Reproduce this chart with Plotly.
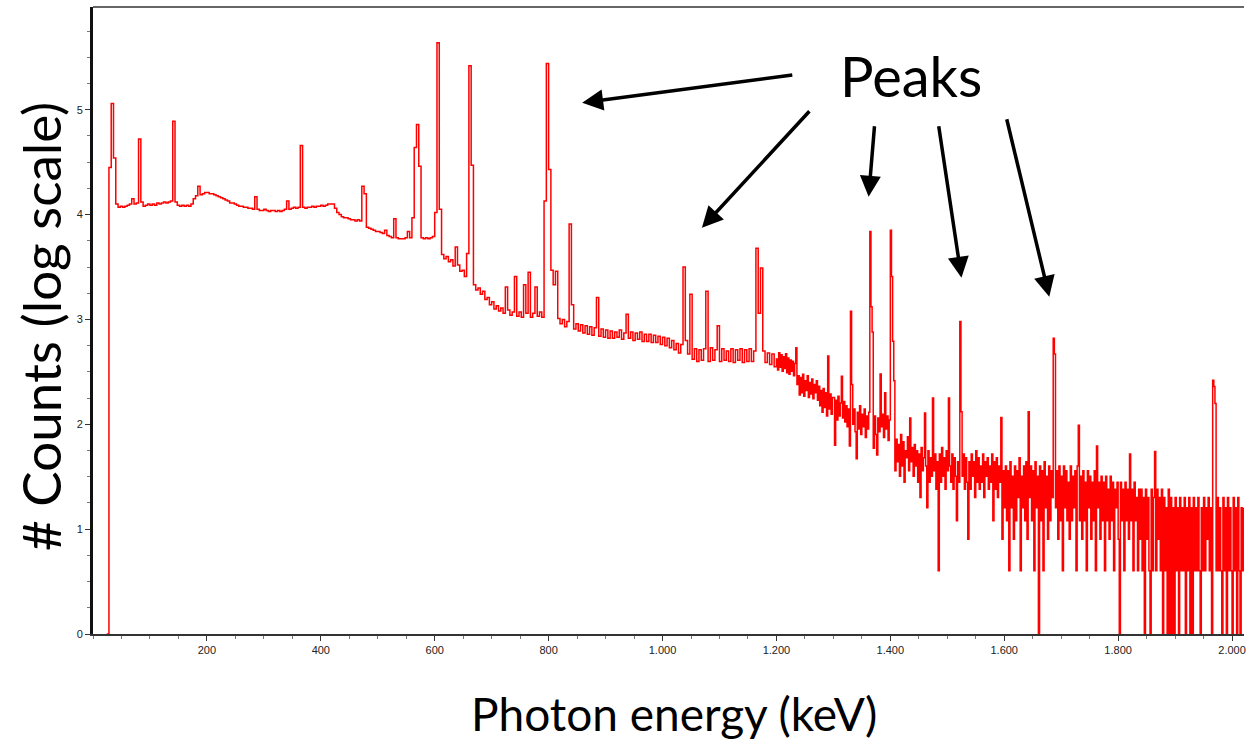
import math
import plotly.graph_objects as go

# ---- Spectrum data ----
# Region A: channel energies start at 24 keV, 4 keV per channel; values are log10(counts)
E_START_A = 24
E_STEP_A = 4
log_counts_a = [
    0, 4.45, 5.06, 4.54, 4.10, 4.07, 4.08, 4.07, 4.08, 4.09,
    4.10, 4.15, 4.10, 4.11, 4.72, 4.12, 4.08, 4.09, 4.10, 4.09,
    4.10, 4.09, 4.11, 4.10, 4.11, 4.12, 4.11, 4.12, 4.13, 4.89,
    4.12, 4.09, 4.08, 4.09, 4.08, 4.09, 4.08, 4.10, 4.15, 4.18,
    4.27, 4.19, 4.20, 4.21, 4.21, 4.20, 4.20, 4.19, 4.18, 4.17,
    4.16, 4.15, 4.14, 4.13, 4.11, 4.11, 4.10, 4.09, 4.08, 4.08,
    4.07, 4.07, 4.06, 4.06, 4.05, 4.17, 4.05, 4.04, 4.04, 4.05,
    4.04, 4.03, 4.04, 4.04, 4.03, 4.04, 4.03, 4.04, 4.05, 4.13,
    4.05, 4.06, 4.07, 4.06, 4.07, 4.66, 4.07, 4.06, 4.07, 4.07,
    4.08, 4.07, 4.08, 4.08, 4.09, 4.08, 4.09, 4.10, 4.10, 4.10,
    4.06, 4.02, 4.00, 3.98, 3.97, 3.97, 3.96, 3.95, 3.95, 3.94,
    3.95, 3.94, 4.27, 4.20, 3.88, 3.87, 3.86, 3.85, 3.84, 3.84,
    3.83, 3.82, 3.85, 3.80, 3.79, 3.78, 3.96, 3.78, 3.77, 3.77,
    3.77, 3.78, 3.84, 3.78, 3.97, 4.64, 4.86, 4.46, 3.78, 3.77,
    3.78, 3.77, 3.78, 3.79, 4.02, 5.64, 4.05, 3.62, 3.58, 3.60,
    3.55, 3.57, 3.51, 3.69, 3.52, 3.46, 3.47, 3.41, 3.63, 5.42,
    4.47, 3.33, 3.28, 3.30, 3.24, 3.27, 3.19, 3.21, 3.14, 3.17,
    3.10, 3.13, 3.08, 3.11, 3.06, 3.31, 3.09, 3.04, 3.07, 3.41,
    3.03, 3.07, 3.02, 3.33, 3.06, 3.45, 3.02, 3.06, 3.31, 3.03,
    3.07, 3.02, 4.13, 5.44, 4.43, 3.47, 3.33, 3.46, 3.01, 2.96,
    3.00, 2.93, 2.98, 3.91, 3.14, 2.91, 2.96, 2.89, 2.95, 2.87,
    2.94, 2.86, 2.93, 2.85, 2.92, 3.21, 2.84, 2.91, 2.83, 2.90,
    2.82, 2.89, 2.82, 2.88, 2.83, 2.90, 2.81, 2.87, 3.05, 2.82,
    2.88, 2.80, 2.87, 2.81, 2.88, 2.79, 2.86, 2.79, 2.86, 2.78,
    2.85, 2.78, 2.84, 2.76, 2.83, 2.75, 2.82, 2.73, 2.80, 2.71,
    2.77, 2.68, 2.76, 3.50, 2.80, 2.67, 3.24, 2.62, 2.72, 2.60,
    2.71, 2.61, 2.72, 3.27, 2.60, 2.73, 2.61, 2.71, 2.94, 2.60,
    2.72, 2.61, 2.70, 2.60, 2.72, 2.59, 2.71, 2.61, 2.72, 2.59,
    2.71, 2.60, 2.72, 2.60, 2.70, 3.68, 3.06, 3.49, 2.70, 2.59,
    2.68, 2.57, 2.67, 2.55,
]

# Region B: channel energies start at 1200 keV, 2 keV per channel; raw counts
E_START_B = 1200
E_STEP_B = 2
counts_b = [
    420, 330, 480, 350, 460, 320, 440, 340, 470, 310,
    430, 300, 410, 320, 400, 290, 380, 537, 240, 290,
    190, 280, 200, 300, 185, 260, 210, 290, 180, 250,
    195, 270, 175, 240, 200, 260, 170, 230, 150, 210,
    130, 220, 145, 200, 120, 447, 140, 195, 125, 180,
    180, 63, 170, 110, 185, 120, 160, 288, 115, 165,
    105, 150, 95, 140, 62, 1200, 240, 100, 140, 85,
    47, 130, 90, 150, 80, 125, 95, 140, 75, 120,
    90, 130, 6900, 1320, 760, 59, 120, 80, 51, 115,
    85, 302, 95, 125, 75, 200, 90, 120, 70, 110,
    7080, 2570, 620, 260, 36, 72, 44, 64, 32, 80,
    40, 68, 28, 56, 48, 76, 36, 115, 44, 60,
    32, 64, 40, 56, 28, 52, 20, 60, 36, 48,
    128, 40, 16, 56, 28, 48, 32, 178, 36, 52,
    24, 44, 4, 52, 28, 60, 32, 48, 24, 56,
    36, 178, 40, 28, 52, 24, 48, 32, 12, 44,
    28, 955, 132, 32, 52, 24, 48, 28, 8, 44,
    24, 52, 32, 44, 20, 56, 28, 48, 24, 40,
    28, 52, 20, 44, 32, 48, 24, 40, 28, 52,
    12, 44, 24, 48, 20, 40, 28, 116, 8, 36,
    16, 40, 12, 36, 4, 44, 16, 32, 8, 40,
    12, 36, 20, 48, 4, 32, 16, 40, 12, 44,
    8, 132, 20, 40, 12, 36, 4, 44, 16, 32,
    0, 40, 12, 36, 4, 44, 16, 32, 8, 40,
    12, 36, 20, 660, 468, 16, 36, 8, 40, 12,
    32, 4, 40, 16, 36, 12, 28, 8, 40, 12,
    32, 16, 36, 4, 40, 98, 12, 32, 8, 36,
    12, 28, 4, 36, 16, 32, 8, 28, 12, 36,
    4, 62, 16, 28, 8, 32, 12, 28, 4, 32,
    12, 24, 8, 32, 12, 28, 4, 24, 16, 28,
    8, 0, 28, 12, 24, 4, 28, 12, 24, 8,
    52, 12, 24, 4, 28, 12, 20, 4, 24, 8,
    24, 4, 20, 0, 24, 8, 20, 4, 0, 24,
    4, 20, 55, 4, 24, 8, 20, 4, 24, 0,
    20, 4, 16, 0, 24, 0, 20, 0, 16, 0,
    20, 4, 16, 0, 20, 4, 16, 4, 20, 0,
    16, 4, 20, 0, 16, 0, 20, 4, 16, 4,
    20, 4, 0, 16, 4, 20, 4, 16, 8, 20,
    4, 16, 0, 263, 229, 158, 4, 20, 4, 16,
    4, 0, 20, 4, 16, 0, 20, 4, 16, 4,
    0, 20, 4, 16, 0, 20, 4, 0, 16, 4,
    16,
]

x_tick_vals = [200, 400, 600, 800, 1000, 1200, 1400, 1600, 1800, 2000]
x_tick_text = ["200", "400", "600", "800", "1.000", "1.200", "1.400", "1.600", "1.800", "2.000"]
y_tick_vals = [0, 1, 2, 3, 4, 5]

# ---- assemble series ----
energy = [E_START_A + E_STEP_A * i for i in range(len(log_counts_a))]
energy += [E_START_B + E_STEP_B * i for i in range(len(counts_b))]
values = list(log_counts_a) + [math.log10(c) if c > 0 else 0 for c in counts_b]

fig = go.Figure()
fig.add_trace(go.Scatter(
    x=energy, y=values, mode="lines", line_shape="hv",
    line=dict(color="#ff0000", width=1.5), hoverinfo="skip",
))

tick_font = dict(family="Liberation Sans, Arial, sans-serif", size=11, color="#222222")
title_font = "Lato, Open Sans, sans-serif"

fig.update_layout(
    width=1246, height=743,
    margin=dict(l=93, r=0, t=7, b=109),
    paper_bgcolor="white", plot_bgcolor="white",
    showlegend=False,
    xaxis=dict(
        range=[0, 2021], showgrid=False, zeroline=False,
        showline=True, linecolor="#333333", linewidth=2,
        tickmode="array", tickvals=x_tick_vals, ticktext=x_tick_text,
        ticks="outside", ticklen=5, tickwidth=1, tickcolor="#333333",
        tickfont=tick_font, ticklabeloverflow="allow",
        minor=dict(tickmode="linear", tick0=0, dtick=50, ticks="outside",
                   ticklen=3, tickcolor="#777777", showgrid=False),
    ),
    yaxis=dict(
        range=[0, 5.98], showgrid=False, zeroline=False,
        showline=True, linecolor="#111111", linewidth=3,
        tickmode="array", tickvals=y_tick_vals,
        ticks="outside", ticklen=5, tickwidth=1, tickcolor="#333333",
        tickfont=tick_font,
        minor=dict(tickmode="linear", tick0=0, dtick=0.25, ticks="outside",
                   ticklen=3, tickcolor="#777777", showgrid=False),
    ),
    shapes=[dict(type="line", xref="paper", yref="paper", x0=0, x1=1, y0=1, y1=1,
                 line=dict(color="#666666", width=2))],
)

annotations = [
    dict(text="Peaks", x=1437, y=5.33, xref="x", yref="y", showarrow=False,
         font=dict(family=title_font, size=56, color="black"),
         xanchor="center", yanchor="middle"),
    dict(text="Photon energy (keV)", x=0.505, y=-0.127, xref="paper", yref="paper",
         showarrow=False, font=dict(family=title_font, size=46, color="black"),
         xanchor="center", yanchor="middle"),
    dict(text="# Counts (log scale)", x=-0.045, y=0.49, xref="paper", yref="paper",
         showarrow=False, textangle=-90,
         font=dict(family=title_font, size=53, color="black"),
         xanchor="center", yanchor="middle"),
]
arrows = [
    (858.9, 5.067, 1230.5, 5.334),
    (1069.2, 3.874, 1260.3, 5.000),
    (1361.9, 4.170, 1372.4, 4.857),
    (1524.9, 3.397, 1484.6, 4.857),
    (1679.1, 3.216, 1603.8, 4.924),
]
for hx, hy, tx, ty in arrows:
    annotations.append(dict(
        x=hx, y=hy, ax=tx, ay=ty, xref="x", yref="y", axref="x", ayref="y",
        text="", showarrow=True, arrowhead=2, arrowsize=1.2, arrowwidth=3.5,
        arrowcolor="black", standoff=0,
    ))
fig.update_layout(annotations=annotations)

fig.write_html("out.html")
